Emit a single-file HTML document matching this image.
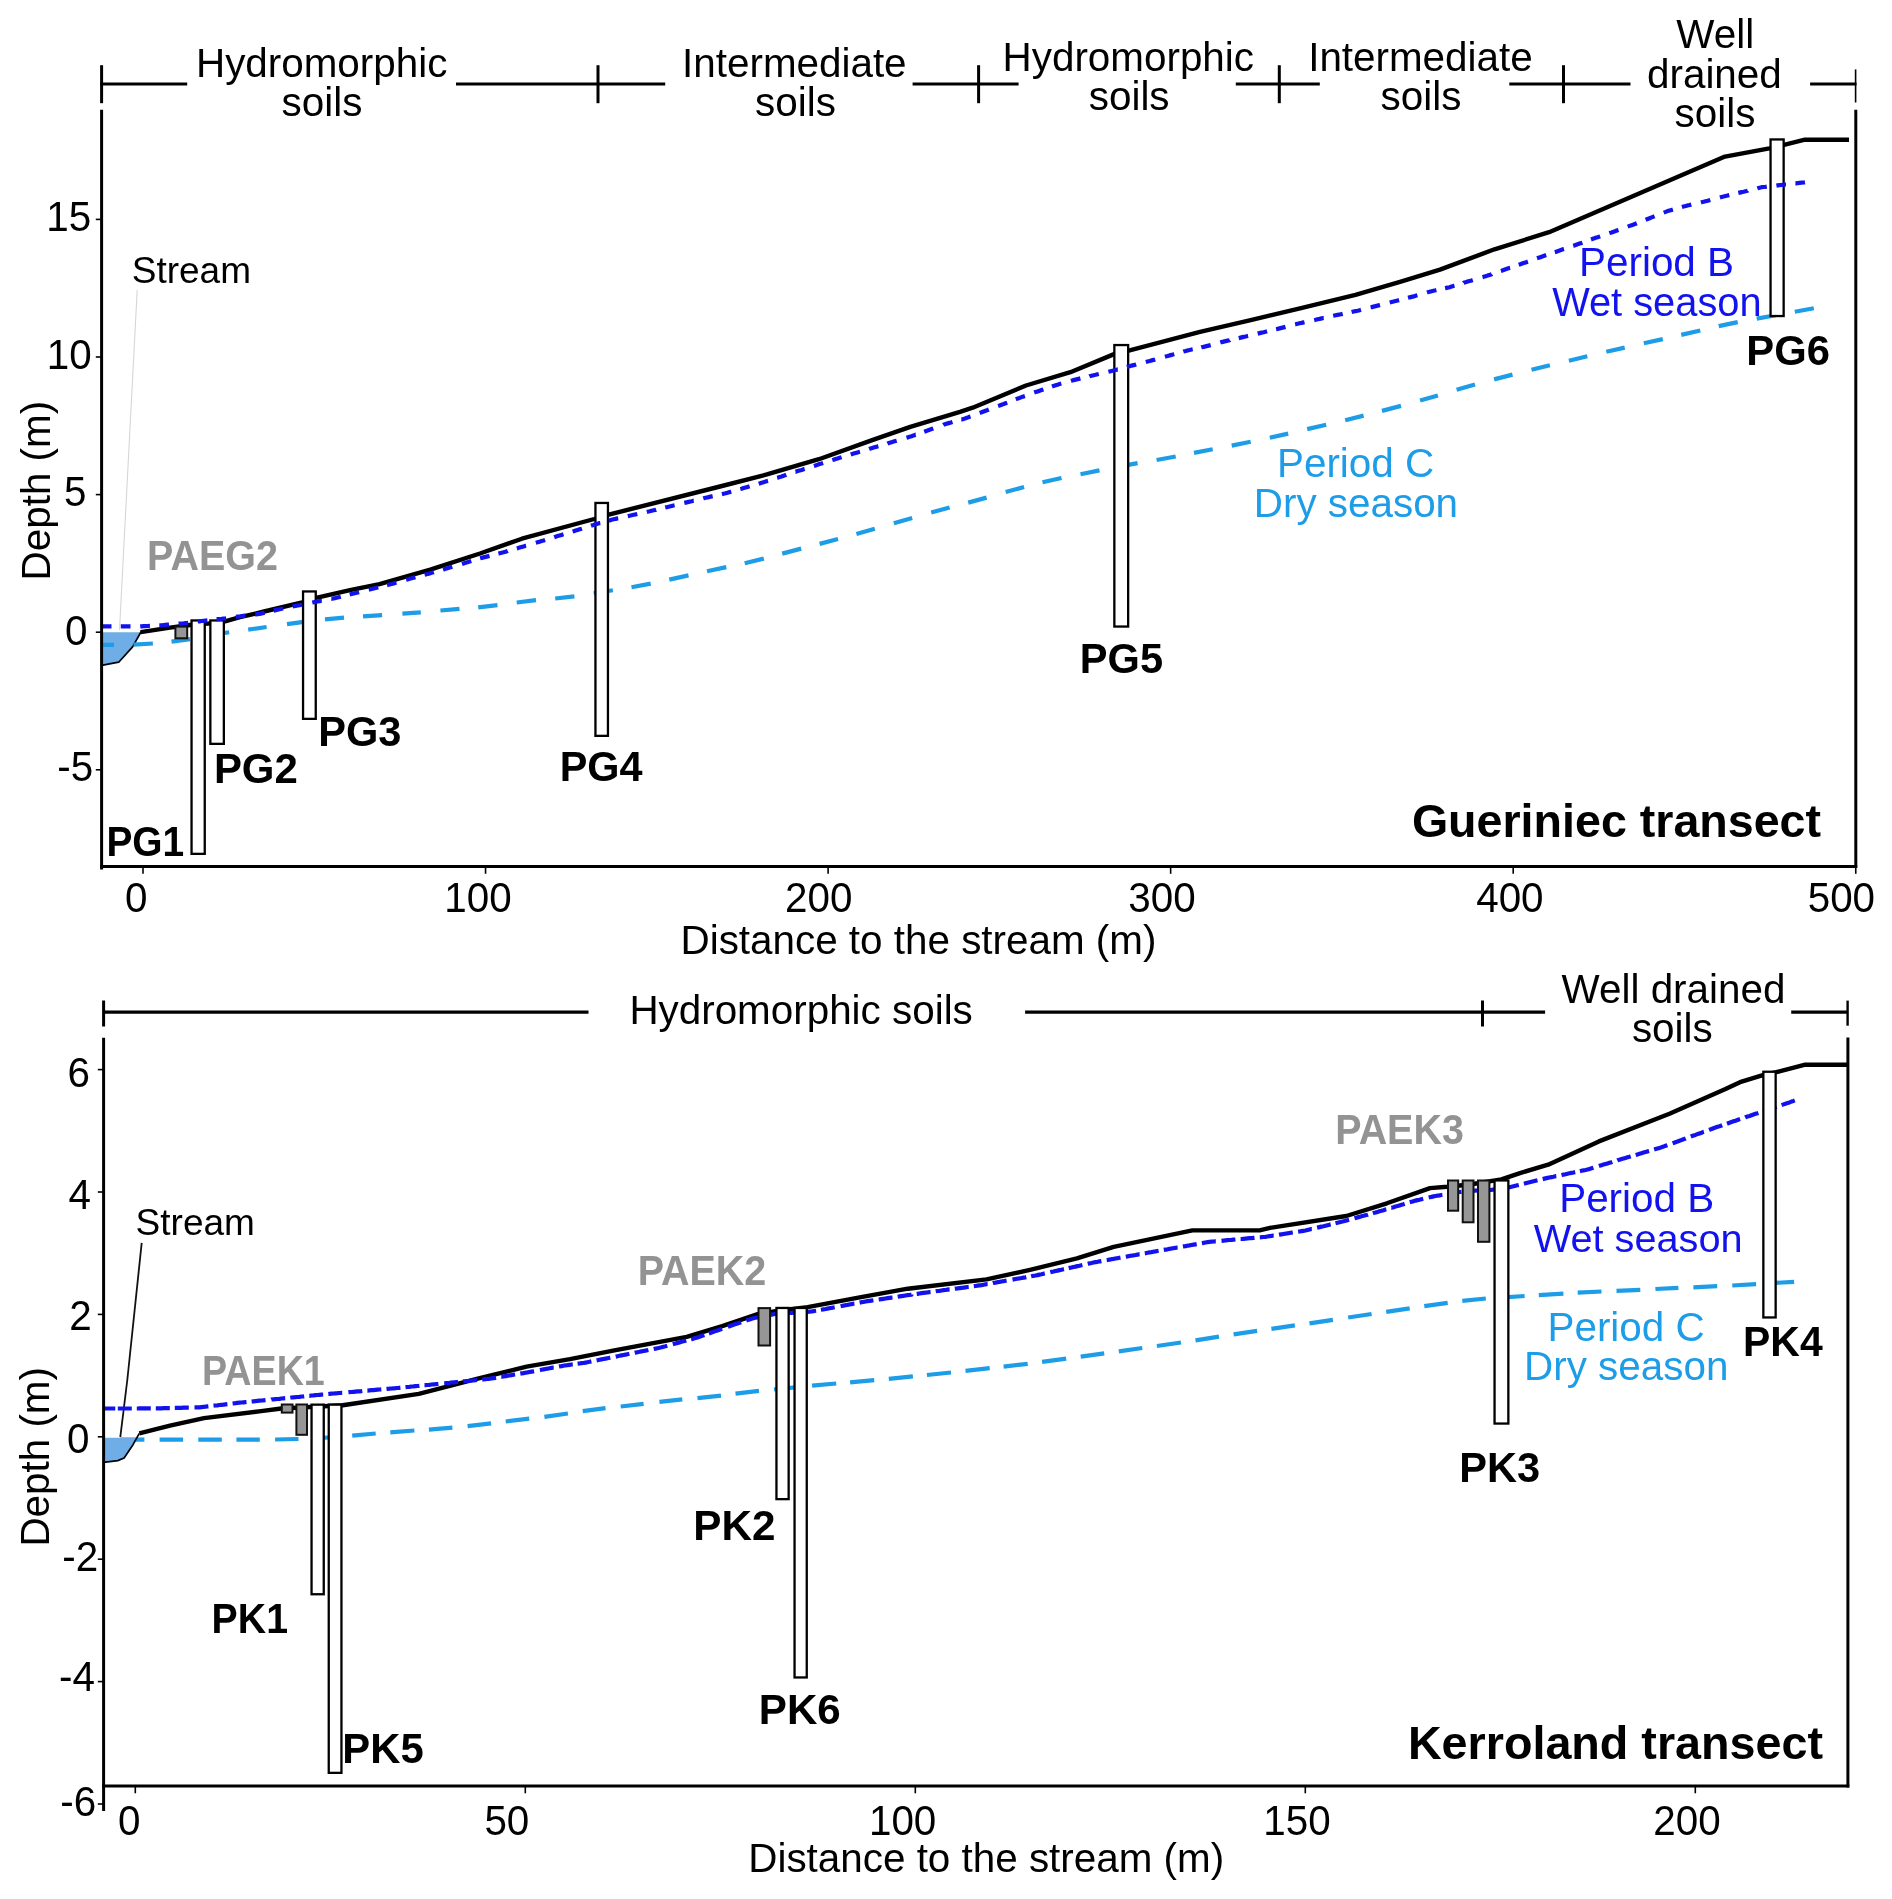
<!DOCTYPE html>
<html><head><meta charset="utf-8"><title>Transects</title><style>
html,body{margin:0;padding:0;background:#fff;}
svg{display:block;will-change:transform;}
text{font-family:"Liberation Sans", sans-serif;}
</style></head><body>
<svg width="1892" height="1899" viewBox="0 0 1892 1899">
<rect width="1892" height="1899" fill="#fff"/>
<line x1="100.20" y1="84.00" x2="187.20" y2="84.00" stroke="#000" stroke-width="3.2"/>
<line x1="456.00" y1="84.00" x2="665.20" y2="84.00" stroke="#000" stroke-width="3.2"/>
<line x1="912.60" y1="84.00" x2="1018.60" y2="84.00" stroke="#000" stroke-width="3.2"/>
<line x1="1235.80" y1="84.00" x2="1319.80" y2="84.00" stroke="#000" stroke-width="3.2"/>
<line x1="1509.30" y1="84.00" x2="1630.50" y2="84.00" stroke="#000" stroke-width="3.2"/>
<line x1="1810.10" y1="84.00" x2="1856.50" y2="84.00" stroke="#000" stroke-width="3.2"/>
<line x1="101.60" y1="65.20" x2="101.60" y2="103.20" stroke="#000" stroke-width="3"/>
<line x1="598.00" y1="65.20" x2="598.00" y2="103.20" stroke="#000" stroke-width="3"/>
<line x1="978.60" y1="65.20" x2="978.60" y2="103.20" stroke="#000" stroke-width="3"/>
<line x1="1279.30" y1="65.20" x2="1279.30" y2="103.20" stroke="#000" stroke-width="3"/>
<line x1="1563.50" y1="65.20" x2="1563.50" y2="103.20" stroke="#000" stroke-width="3"/>
<line x1="1855.60" y1="69.40" x2="1855.60" y2="102.50" stroke="#000" stroke-width="1.6"/>
<text x="195.99" y="76.80" font-size="40.4">Hydromorphic</text>
<text x="281.58" y="116.40" font-size="40.4">soils</text>
<text x="682.07" y="76.90" font-size="40.4">Intermediate</text>
<text x="755.08" y="115.50" font-size="40.4">soils</text>
<text x="1002.59" y="70.90" font-size="40.4">Hydromorphic</text>
<text x="1088.78" y="109.60" font-size="40.4">soils</text>
<text x="1308.17" y="71.40" font-size="40.4">Intermediate</text>
<text x="1380.58" y="110.40" font-size="40.4">soils</text>
<text x="1676.32" y="48.10" font-size="40.4">Well</text>
<text x="1647.00" y="88.00" font-size="40.4">drained</text>
<text x="1674.58" y="126.80" font-size="40.4">soils</text>
<polygon points="101.6,632.2 140.7,632.2 132.6,646.9 118.7,662.2 102.2,665.1" fill="#6eade6"/>
<polyline points="141.5,631.0 132.6,646.9 118.7,662.2 101.6,665.3" fill="none" stroke="#000" stroke-width="1.7" stroke-linejoin="round"/>
<line x1="137.20" y1="290.00" x2="119.50" y2="630.00" stroke="#d6d6d6" stroke-width="1.1"/>
<polyline points="140.7,632.1 170.0,627.6 190.0,625.0 208.0,623.6 225.0,621.3 240.0,617.2 264.1,611.5 302.2,602.4 316.1,597.9 350.0,590.2 379.5,584.1 430.3,569.6 480.0,553.5 521.9,538.7 594.2,519.0 608.8,514.6 720.0,486.5 766.9,474.4 818.9,459.2 872.2,440.1 910.3,426.8 960.0,411.9 972.7,407.7 1026.0,385.5 1070.4,372.2 1113.5,354.4 1128.7,350.6 1200.0,331.8 1250.7,320.2 1300.0,308.4 1355.5,294.9 1400.0,281.9 1440.0,269.6 1494.5,249.3 1549.1,232.2 1725.0,156.6 1769.4,148.3 1784.0,144.9 1804.9,139.7 1849.0,139.7" fill="none" stroke="#000" stroke-width="4.4" stroke-linejoin="round"/>
<path d="M103.0,644.8 L114.0,644.8 M133.5,644.6 L152.9,643.5 M171.5,641.7 L190.0,639.1 M210.0,635.3 L229.2,632.2 M248.2,629.6 L266.6,627.0 M287.0,624.1 L305.5,621.7 M325.0,619.3 L344.0,617.6 M363.0,616.4 L382.1,615.1 M402.4,613.7 L420.8,612.3 M440.4,610.5 L459.5,608.8 M478.2,607.3 L497.5,605.1 M516.7,602.5 L536.0,600.2 M555.2,598.5 L574.4,596.3 M593.7,593.3 L612.9,590.3 M631.5,587.3 L650.7,583.6 M669.3,579.6 L688.5,575.4 M707.0,571.3 L726.3,567.1 M744.7,563.2 L763.8,558.6 M782.2,553.6 L801.2,548.6 M819.6,543.9 L838.0,539.0 M856.4,533.9 L874.8,528.7 M893.8,523.3 L912.2,517.9 M931.2,512.5 L949.6,507.4 M968.2,502.6 L986.6,497.6 M1005.7,492.0 L1024.1,487.0 M1042.5,482.3 L1061.5,478.0 M1080.5,474.2 L1099.5,470.4 M1118.5,466.6 L1137.6,463.1 M1156.6,460.0 L1175.7,456.5 M1194.0,452.9 L1212.7,449.2 M1231.7,445.6 L1250.7,441.8 M1269.8,437.7 L1288.2,433.6 M1307.2,429.1 L1326.2,424.7 M1345.2,420.2 L1363.6,415.6 M1382.0,410.9 L1401.0,405.9 M1420.1,400.6 L1437.9,395.4 M1456.6,389.8 L1475.0,384.5 M1494.1,379.4 L1512.5,374.6 M1531.5,369.7 L1549.9,365.2 M1568.9,360.7 L1587.3,356.3 M1606.3,351.8 L1624.7,347.6 M1643.8,343.3 L1662.8,339.1 M1681.2,334.9 L1700.3,330.5 M1718.7,326.1 L1737.7,322.1 M1756.7,318.6 L1775.7,315.2 M1794.8,311.7 L1813.8,308.3" fill="none" stroke="#1d9de8" stroke-width="4.2" stroke-linejoin="round"/>
<rect x="175.40" y="626.60" width="11.80" height="11.70" fill="#969696" stroke="#111" stroke-width="2.0"/>
<rect x="191.55" y="620.45" width="13.20" height="233.40" fill="#fff" stroke="#000" stroke-width="2.3"/>
<rect x="210.35" y="620.45" width="13.50" height="123.40" fill="#fff" stroke="#000" stroke-width="2.3"/>
<rect x="303.05" y="591.45" width="12.70" height="127.40" fill="#fff" stroke="#000" stroke-width="2.3"/>
<rect x="595.45" y="502.95" width="12.50" height="232.90" fill="#fff" stroke="#000" stroke-width="2.3"/>
<rect x="1114.35" y="345.05" width="13.80" height="281.50" fill="#fff" stroke="#000" stroke-width="2.3"/>
<rect x="1770.55" y="139.45" width="13.10" height="176.60" fill="#fff" stroke="#000" stroke-width="2.3"/>
<path d="M102.8,626.4 L103.6,626.4 L105.6,626.4 L107.6,626.4 L109.6,626.4 L111.5,626.4 M120.8,626.4 L121.6,626.4 L123.6,626.4 L125.6,626.4 L127.6,626.4 L129.6,626.4 L130.5,626.4 M140.2,626.4 L141.6,626.3 L143.6,626.2 L145.6,626.1 L147.6,626.0 L149.6,625.9 L149.9,625.9 M159.3,625.4 L159.6,625.4 L161.6,625.3 L163.6,625.1 L165.6,624.9 L167.6,624.7 L169.0,624.6 M178.6,623.7 L179.6,623.6 L181.6,623.5 L183.6,623.3 L185.6,623.0 L187.6,622.8 L188.2,622.7 M197.8,621.5 L199.6,621.3 L201.6,621.0 L203.6,620.8 L205.6,620.6 L207.4,620.4 M216.6,619.3 L217.6,619.2 L219.6,619.0 L221.6,618.8 L223.6,618.5 L225.6,618.3 L226.2,618.2 M235.9,616.9 L237.6,616.7 L239.6,616.5 L241.6,616.2 L243.6,615.9 L245.5,615.7 M255.2,614.4 L255.6,614.4 L257.6,614.1 L259.6,613.9 L261.6,613.4 L263.6,612.9 L264.7,612.7 M273.6,610.6 L275.6,610.1 L277.6,609.6 L279.6,609.2 L281.6,608.7 L283.1,608.4 M292.6,606.5 L293.6,606.3 L295.6,605.9 L297.6,605.5 L299.6,605.1 L301.6,604.7 L302.1,604.6 M312.3,602.6 L313.6,602.3 L315.6,601.9 L317.6,601.5 L319.6,601.1 L321.6,600.7 L321.8,600.7 M331.3,598.8 L331.6,598.8 L333.6,598.4 L335.6,598.0 L337.6,597.5 L339.6,597.0 L340.8,596.7 M349.7,594.5 L351.6,594.0 L353.6,593.5 L355.6,593.0 L357.6,592.5 L359.1,592.1 M368.8,589.7 L369.6,589.5 L371.6,589.0 L373.6,588.5 L375.6,588.0 L377.6,587.5 L378.2,587.3 M387.1,585.1 L387.6,585.0 L389.6,584.5 L391.6,584.0 L393.6,583.4 L395.6,582.8 L396.5,582.6 M406.1,579.8 L407.6,579.4 L409.6,578.8 L411.6,578.3 L413.6,577.7 L415.4,577.2 M424.6,574.8 L425.6,574.5 L427.6,574.0 L429.6,573.4 L431.6,572.8 L433.6,572.3 L433.9,572.2 M443.0,569.6 L443.6,569.4 L445.6,568.8 L447.6,568.2 L449.6,567.6 L451.6,567.0 L452.3,566.8 M462.0,563.9 L463.6,563.4 L465.6,562.8 L467.6,562.2 L469.6,561.6 L471.3,561.1 M480.1,558.3 L481.6,557.9 L483.6,557.4 L485.6,556.9 L487.6,556.4 L489.5,555.9 M498.4,553.6 L499.6,553.3 L501.6,552.8 L503.6,552.3 L505.6,551.7 L507.6,551.1 L507.8,551.0 M516.8,548.4 L517.6,548.2 L519.6,547.6 L521.6,547.0 L523.6,546.4 L525.6,545.8 L526.1,545.7 M535.8,542.8 L537.6,542.3 L539.6,541.7 L541.6,541.1 L543.6,540.5 L545.1,540.0 M554.2,537.2 L555.6,536.7 L557.6,536.1 L559.6,535.5 L561.6,534.9 L563.5,534.3 M572.6,531.5 L573.6,531.2 L575.6,530.5 L577.6,529.9 L579.6,529.3 L581.6,528.7 L581.9,528.6 M591.0,525.7 L591.6,525.5 L593.6,524.9 L595.6,524.2 L597.6,523.7 L599.6,523.1 L600.3,523.0 M608.8,520.6 L609.6,520.4 L611.6,519.8 L613.6,519.3 L615.6,518.9 L617.6,518.4 L618.2,518.3 M627.8,516.1 L629.6,515.7 L631.6,515.3 L633.6,514.8 L635.6,514.4 L637.3,514.0 M646.8,511.9 L647.6,511.7 L649.6,511.3 L651.6,510.8 L653.6,510.3 L655.6,509.9 L656.2,509.7 M665.2,507.5 L665.6,507.4 L667.6,507.0 L669.6,506.5 L671.6,506.0 L673.6,505.5 L674.6,505.3 M684.3,502.9 L685.6,502.6 L687.6,502.1 L689.6,501.6 L691.6,501.2 L693.6,500.7 L693.7,500.7 M703.3,498.4 L703.6,498.3 L705.6,497.8 L707.6,497.4 L709.6,496.9 L711.6,496.4 L712.7,496.2 M721.9,494.1 L723.6,493.7 L725.6,493.3 L727.6,492.7 L729.6,492.1 L731.3,491.7 M740.3,489.0 L741.6,488.7 L743.6,488.1 L745.6,487.5 L747.6,486.9 L749.6,486.3 L749.6,486.3 M758.7,483.7 L759.6,483.4 L761.6,482.8 L763.6,482.2 L765.6,481.6 L767.6,480.9 L768.0,480.8 M777.1,477.8 L777.6,477.7 L779.6,477.0 L781.6,476.4 L783.6,475.7 L785.6,475.1 L786.3,474.8 M795.5,471.8 L795.6,471.8 L797.6,471.1 L799.6,470.5 L801.6,469.9 L803.6,469.2 L804.7,468.9 M813.9,465.9 L815.6,465.4 L817.6,464.8 L819.6,464.1 L821.6,463.5 L823.1,463.0 M832.3,460.1 L833.6,459.7 L835.6,459.0 L837.6,458.4 L839.6,457.8 L841.6,457.2 M850.7,454.5 L851.6,454.2 L853.6,453.6 L855.6,453.0 L857.6,452.4 L859.6,451.8 L860.0,451.7 M869.1,449.0 L869.6,448.8 L871.6,448.2 L873.6,447.6 L875.6,447.0 L877.6,446.4 L878.4,446.2 M887.4,443.5 L887.6,443.4 L889.6,442.8 L891.6,442.2 L893.6,441.6 L895.6,441.0 L896.7,440.7 M906.5,437.7 L907.6,437.4 L909.6,436.8 L911.6,436.2 L913.6,435.4 L915.6,434.7 L915.7,434.7 M924.2,431.7 L925.6,431.2 L927.6,430.5 L929.6,429.8 L931.6,429.1 L933.3,428.5 M943.3,425.0 L943.6,424.8 L945.6,424.1 L947.6,423.4 L949.6,422.9 L951.6,422.3 L952.5,422.0 M961.3,419.5 L961.6,419.5 L963.6,418.9 L965.6,418.3 L967.6,417.6 L969.6,416.8 L970.5,416.5 M979.7,413.0 L981.6,412.3 L983.6,411.5 L985.6,410.7 L987.6,410.0 L988.8,409.5 M998.1,406.0 L999.6,405.5 L1001.6,404.7 L1003.6,404.0 L1005.6,403.2 L1007.2,402.6 M1015.8,399.3 L1017.6,398.6 L1019.6,397.9 L1021.6,397.1 L1023.6,396.4 L1024.9,396.0 M1034.2,392.6 L1035.6,392.1 L1037.6,391.4 L1039.6,390.7 L1041.6,390.0 L1043.4,389.4 M1052.0,386.5 L1053.6,385.9 L1055.6,385.3 L1057.6,384.7 L1059.6,384.1 L1061.3,383.6 M1071.0,380.9 L1071.6,380.7 L1073.6,380.1 L1075.6,379.6 L1077.6,379.1 L1079.6,378.6 L1080.4,378.4 M1089.4,376.3 L1089.6,376.2 L1091.6,375.7 L1093.6,375.2 L1095.6,374.8 L1097.6,374.3 L1098.8,374.0 M1108.4,371.8 L1109.6,371.5 L1111.6,371.0 L1113.6,370.5 L1115.6,370.0 L1117.6,369.4 L1117.8,369.4 M1126.8,366.9 L1127.6,366.7 L1129.6,366.2 L1131.6,365.6 L1133.6,365.1 L1135.6,364.6 L1136.2,364.4 M1145.8,362.0 L1147.6,361.5 L1149.6,361.0 L1151.6,360.4 L1153.6,359.9 L1155.2,359.4 M1164.9,356.7 L1165.6,356.5 L1167.6,356.0 L1169.6,355.4 L1171.6,354.9 L1173.6,354.3 L1174.2,354.1 M1183.3,351.6 L1183.6,351.5 L1185.6,351.0 L1187.6,350.4 L1189.6,350.0 L1191.6,349.5 L1192.7,349.3 M1201.3,347.4 L1201.6,347.3 L1203.6,346.9 L1205.6,346.4 L1207.6,345.9 L1209.6,345.4 L1210.7,345.1 M1220.3,342.5 L1221.6,342.1 L1223.6,341.6 L1225.6,341.1 L1227.6,340.6 L1229.6,340.2 L1229.7,340.1 M1238.7,338.1 L1239.6,337.9 L1241.6,337.4 L1243.6,336.9 L1245.6,336.5 L1247.6,336.0 L1248.1,335.9 M1257.7,333.6 L1259.6,333.1 L1261.6,332.6 L1263.6,332.2 L1265.6,331.7 L1267.1,331.3 M1276.1,329.2 L1277.6,328.9 L1279.6,328.4 L1281.6,327.9 L1283.6,327.4 L1285.5,326.9 M1295.1,324.4 L1295.6,324.3 L1297.6,323.8 L1299.6,323.3 L1301.6,322.9 L1303.6,322.4 L1304.5,322.2 M1314.2,320.1 L1315.6,319.8 L1317.6,319.3 L1319.6,318.9 L1321.6,318.4 L1323.6,318.0 L1323.7,318.0 M1333.2,315.9 L1333.6,315.8 L1335.6,315.3 L1337.6,314.9 L1339.6,314.5 L1341.6,314.1 L1342.7,313.8 M1351.6,312.0 L1353.6,311.5 L1355.6,311.1 L1357.6,310.7 L1359.6,310.2 L1361.0,309.8 M1370.6,307.3 L1371.6,307.1 L1373.6,306.6 L1375.6,306.1 L1377.6,305.6 L1379.6,305.1 L1380.0,305.0 M1389.7,302.5 L1391.6,302.0 L1393.6,301.5 L1395.6,301.0 L1397.6,300.5 L1399.1,300.1 M1408.0,297.8 L1409.6,297.4 L1411.6,296.9 L1413.6,296.4 L1415.6,295.8 L1417.4,295.3 M1427.0,292.5 L1427.6,292.3 L1429.6,291.8 L1431.6,291.2 L1433.6,290.7 L1435.6,290.3 L1436.4,290.1 M1445.1,288.2 L1445.6,288.1 L1447.6,287.6 L1449.6,287.2 L1451.6,286.5 L1453.6,285.9 L1454.5,285.7 M1463.5,282.9 L1463.6,282.8 L1465.6,282.2 L1467.6,281.6 L1469.6,281.0 L1471.6,280.4 L1472.8,280.0 M1482.5,277.1 L1483.6,276.8 L1485.6,276.2 L1487.6,275.6 L1489.6,274.9 L1491.6,274.2 L1491.7,274.1 M1500.9,270.9 L1501.6,270.7 L1503.6,270.0 L1505.6,269.3 L1507.6,268.6 L1509.6,267.9 L1510.1,267.8 M1518.7,264.8 L1519.6,264.5 L1521.6,263.8 L1523.6,263.1 L1525.6,262.4 L1527.6,261.7 L1527.9,261.6 M1537.0,258.3 L1537.6,258.1 L1539.6,257.4 L1541.6,256.7 L1543.6,256.0 L1545.6,255.3 L1546.2,255.1 M1554.8,252.1 L1555.6,251.9 L1557.6,251.2 L1559.6,250.5 L1561.6,249.8 L1563.6,249.1 L1564.0,249.0 M1573.2,245.8 L1573.6,245.7 L1575.6,245.0 L1577.6,244.3 L1579.6,243.6 L1581.6,242.9 L1582.4,242.6 M1591.0,239.5 L1591.6,239.3 L1593.6,238.6 L1595.6,237.8 L1597.6,237.2 L1599.6,236.5 L1600.1,236.3 M1609.3,233.1 L1609.6,233.0 L1611.6,232.4 L1613.6,231.7 L1615.6,231.0 L1617.6,230.2 L1618.5,229.9 M1627.7,226.6 L1629.6,225.9 L1631.6,225.2 L1633.6,224.5 L1635.6,223.7 L1636.8,223.2 M1645.6,219.8 L1647.6,219.0 L1649.6,218.2 L1651.6,217.4 L1653.6,216.6 L1654.6,216.2 M1663.7,212.6 L1665.6,211.9 L1667.6,211.1 L1669.6,210.5 L1671.6,209.9 L1672.9,209.5 M1681.9,207.0 L1683.6,206.5 L1685.6,206.0 L1687.6,205.4 L1689.6,205.0 L1691.3,204.6 M1700.9,202.4 L1701.6,202.2 L1703.6,201.8 L1705.6,201.3 L1707.6,200.8 L1709.6,200.2 L1710.3,200.0 M1719.9,197.5 L1721.6,197.0 L1723.6,196.5 L1725.6,196.0 L1727.6,195.5 L1729.3,195.1 M1738.3,192.9 L1739.6,192.6 L1741.6,192.1 L1743.6,191.7 L1745.6,191.2 L1747.6,190.7 L1747.7,190.6 M1757.3,188.3 L1757.6,188.2 L1759.6,187.7 L1761.6,187.2 L1763.6,187.0 L1765.6,186.8 L1766.8,186.6 M1776.4,185.6 L1777.6,185.4 L1779.6,185.2 L1781.6,185.0 L1783.6,184.7 L1785.6,184.5 L1786.0,184.5 M1795.4,183.4 L1795.6,183.4 L1797.6,183.1 L1799.6,182.9 L1801.6,182.7 L1803.6,182.5 L1805.0,182.3" fill="none" stroke="#1212ee" stroke-width="4.2" stroke-linejoin="round"/>
<line x1="101.60" y1="109.80" x2="101.60" y2="869.50" stroke="#000" stroke-width="3"/>
<line x1="100.10" y1="866.40" x2="1857.20" y2="866.40" stroke="#000" stroke-width="3"/>
<line x1="1855.80" y1="109.80" x2="1855.80" y2="867.90" stroke="#000" stroke-width="3"/>
<line x1="95.80" y1="219.40" x2="101.00" y2="219.40" stroke="#000" stroke-width="1.6"/>
<line x1="95.80" y1="357.00" x2="101.00" y2="357.00" stroke="#000" stroke-width="1.6"/>
<line x1="95.80" y1="494.60" x2="101.00" y2="494.60" stroke="#000" stroke-width="1.6"/>
<line x1="95.80" y1="632.20" x2="101.00" y2="632.20" stroke="#000" stroke-width="1.6"/>
<line x1="95.80" y1="769.80" x2="101.00" y2="769.80" stroke="#000" stroke-width="1.6"/>
<line x1="143.00" y1="866.00" x2="143.00" y2="873.80" stroke="#000" stroke-width="1.6"/>
<line x1="485.55" y1="866.00" x2="485.55" y2="873.80" stroke="#000" stroke-width="1.6"/>
<line x1="828.10" y1="866.00" x2="828.10" y2="873.80" stroke="#000" stroke-width="1.6"/>
<line x1="1170.65" y1="866.00" x2="1170.65" y2="873.80" stroke="#000" stroke-width="1.6"/>
<line x1="1513.20" y1="866.00" x2="1513.20" y2="873.80" stroke="#000" stroke-width="1.6"/>
<line x1="1855.75" y1="866.00" x2="1855.75" y2="873.80" stroke="#000" stroke-width="1.6"/>
<text transform="translate(46.22,231.20) scale(1.0000,1.0350)" font-size="40.4">15</text>
<text transform="translate(46.82,368.60) scale(1.0000,1.0350)" font-size="40.4">10</text>
<text transform="translate(64.08,505.50) scale(1.0000,1.0350)" font-size="40.4">5</text>
<text transform="translate(65.02,645.40) scale(1.0000,1.0350)" font-size="40.4">0</text>
<text transform="translate(57.30,781.10) scale(1.0000,1.0350)" font-size="40.4">-5</text>
<text transform="translate(124.92,911.50) scale(1.0000,1.0350)" font-size="40.4">0</text>
<text transform="translate(444.32,911.50) scale(1.0000,1.0350)" font-size="40.4">100</text>
<text transform="translate(785.07,911.50) scale(1.0000,1.0350)" font-size="40.4">200</text>
<text transform="translate(1128.26,911.50) scale(1.0000,1.0350)" font-size="40.4">300</text>
<text transform="translate(1476.17,911.50) scale(1.0000,1.0350)" font-size="40.4">400</text>
<text transform="translate(1807.68,911.50) scale(1.0000,1.0350)" font-size="40.4">500</text>
<text x="680.49" y="953.90" font-size="40.4">Distance to the stream (m)</text>
<text transform="translate(50.40,580.41) rotate(-90)" font-size="40.4">Depth (m)</text>
<text x="1411.89" y="837.40" font-size="46.6" font-weight="bold">Gueriniec transect</text>
<text x="131.72" y="283.00" font-size="37">Stream</text>
<text transform="translate(147.06,569.90) scale(0.9747,1.0350)" font-size="40.5" font-weight="bold" fill="#939393">PAEG2</text>
<text transform="translate(106.40,856.00) scale(0.9357,1.0350)" font-size="41.6" font-weight="bold">PG1</text>
<text transform="translate(213.89,783.20) scale(1.0090,1.0350)" font-size="41.6" font-weight="bold">PG2</text>
<text transform="translate(318.22,745.50) scale(1.0000,1.0350)" font-size="41.6" font-weight="bold">PG3</text>
<text transform="translate(559.73,781.40) scale(0.9958,1.0350)" font-size="41.6" font-weight="bold">PG4</text>
<text transform="translate(1079.82,672.50) scale(1.0000,1.0350)" font-size="41.6" font-weight="bold">PG5</text>
<text transform="translate(1746.31,365.10) scale(1.0044,1.0350)" font-size="41.6" font-weight="bold">PG6</text>
<text x="1579.09" y="276.30" font-size="40.4" fill="#1212ee">Period B</text>
<text x="1552.13" y="316.00" font-size="39.8" fill="#1212ee">Wet season</text>
<text x="1276.99" y="477.20" font-size="40.4" fill="#1d9de8">Period C</text>
<text x="1253.79" y="517.30" font-size="40.4" fill="#1d9de8">Dry season</text>
<line x1="103.20" y1="1012.20" x2="588.50" y2="1012.20" stroke="#000" stroke-width="3.2"/>
<line x1="1025.10" y1="1012.20" x2="1545.10" y2="1012.20" stroke="#000" stroke-width="3.2"/>
<line x1="1791.20" y1="1012.20" x2="1847.60" y2="1012.20" stroke="#000" stroke-width="3.2"/>
<line x1="103.60" y1="1000.50" x2="103.60" y2="1026.50" stroke="#000" stroke-width="3"/>
<line x1="1482.50" y1="1000.50" x2="1482.50" y2="1026.50" stroke="#000" stroke-width="3"/>
<line x1="1847.60" y1="1000.60" x2="1847.60" y2="1025.70" stroke="#000" stroke-width="2.4"/>
<text x="629.39" y="1023.60" font-size="40.4">Hydromorphic soils</text>
<text x="1561.62" y="1003.00" font-size="40.4">Well drained</text>
<text x="1631.88" y="1042.40" font-size="40.4">soils</text>
<polyline points="139.3,1433.3 170.0,1425.7 204.0,1418.1 261.1,1411.1 281.4,1408.5 310.0,1407.0 342.7,1405.3 418.8,1393.9 479.7,1378.1 526.6,1366.6 570.0,1359.1 614.4,1350.3 686.7,1336.9 722.2,1326.2 757.7,1314.1 780.0,1310.5 807.6,1307.1 858.4,1297.6 907.8,1288.7 986.5,1279.4 1030.0,1269.8 1076.9,1258.4 1113.7,1246.9 1192.4,1230.4 1259.6,1230.4 1270.0,1227.9 1346.3,1216.0 1386.9,1203.3 1430.0,1188.1 1447.1,1186.8 1470.0,1184.5 1501.4,1179.3 1520.0,1173.1 1548.2,1164.7 1598.9,1141.4 1669.5,1113.8 1725.5,1089.1 1740.0,1082.2 1762.0,1075.4 1776.3,1072.2 1804.3,1064.8 1847.1,1064.8" fill="none" stroke="#000" stroke-width="4.4" stroke-linejoin="round"/>
<path d="M120.9,1439.6 L144.4,1439.6 M159.6,1439.6 L183.1,1439.6 M198.3,1439.6 L221.8,1439.6 M236.4,1439.6 L259.8,1439.6 M275.1,1439.5 L298.5,1439.0 M313.8,1438.5 L337.3,1436.9 M352.2,1435.6 L375.7,1433.5 M390.3,1432.3 L414.4,1430.5 M428.9,1429.6 L452.4,1427.6 M467.6,1426.2 L491.1,1423.4 M505.7,1421.5 L529.2,1418.6 M544.4,1416.8 L567.9,1413.5 M582.7,1411.1 L605.5,1408.1 M620.7,1406.5 L643.6,1403.9 M659.4,1401.9 L682.3,1399.4 M697.5,1398.2 L721.0,1395.6 M735.5,1393.7 L759.0,1390.9 M774.0,1389.5 L797.5,1387.1 M812.1,1385.7 L836.2,1383.5 M850.1,1382.4 L874.2,1380.2 M888.8,1378.8 L912.9,1376.4 M926.9,1375.0 L951.0,1372.5 M965.5,1370.9 L989.7,1368.2 M1003.6,1366.7 L1027.7,1363.8 M1042.1,1361.9 L1066.2,1358.7 M1080.7,1356.7 L1104.2,1353.3 M1118.8,1351.3 L1142.3,1348.0 M1156.9,1346.0 L1181.0,1342.5 M1195.5,1340.3 L1219.0,1336.7 M1233.6,1334.4 L1257.1,1330.9 M1271.4,1328.8 L1294.9,1325.4 M1309.5,1323.3 L1332.9,1319.8 M1348.2,1317.5 L1371.6,1314.0 M1386.2,1311.9 L1409.7,1308.3 M1424.3,1306.2 L1447.7,1302.8 M1462.3,1300.9 L1485.8,1298.5 M1500.5,1297.6 L1524.6,1296.0 M1538.8,1295.2 L1563.4,1293.6 M1577.7,1292.7 L1601.5,1291.5 M1616.5,1290.9 L1640.3,1289.8 M1655.4,1289.0 L1678.4,1287.9 M1693.4,1287.3 L1717.2,1286.2 M1732.3,1285.5 L1756.1,1284.2 M1770.5,1283.2 L1794.1,1281.8" fill="none" stroke="#1d9de8" stroke-width="4.2" stroke-linejoin="round"/>
<polygon points="103.6,1437.7 137.4,1437.7 133,1444.7 124.1,1458 117.8,1460.6 103.8,1462.2" fill="#6eade6"/>
<polyline points="139.3,1433.3 133.0,1444.7 124.1,1458.0 117.8,1460.6 103.6,1462.3" fill="none" stroke="#000" stroke-width="1.7" stroke-linejoin="round"/>
<line x1="127.30" y1="1380.00" x2="120.30" y2="1437.10" stroke="#111" stroke-width="1.8"/>
<line x1="141.70" y1="1242.90" x2="127.30" y2="1380.00" stroke="#111" stroke-width="1.8"/>
<path d="M105.0,1408.5 L105.5,1408.5 L107.5,1408.5 L109.5,1408.5 L111.5,1408.5 L113.5,1408.5 L115.3,1408.5 M117.8,1408.5 L119.5,1408.5 L121.5,1408.5 L123.5,1408.5 L125.5,1408.5 L127.5,1408.5 L129.5,1408.5 L131.5,1408.5 L131.8,1408.5 M136.8,1408.5 L137.5,1408.5 L139.5,1408.4 L141.5,1408.4 L143.5,1408.4 L145.5,1408.4 L147.5,1408.4 L149.5,1408.4 L150.8,1408.4 M155.8,1408.3 L157.5,1408.3 L159.5,1408.3 L161.5,1408.3 L163.5,1408.2 L165.5,1408.2 L167.5,1408.1 L169.5,1408.1 L169.8,1408.1 M174.8,1407.9 L175.5,1407.9 L177.5,1407.9 L179.5,1407.8 L181.5,1407.8 L183.5,1407.7 L185.5,1407.7 L187.5,1407.6 L188.8,1407.6 M194.5,1407.4 L195.5,1407.4 L197.5,1407.4 L199.5,1407.3 L201.5,1407.1 L203.5,1406.9 L205.5,1406.7 L207.5,1406.4 L208.4,1406.3 M213.5,1405.7 L215.5,1405.5 L217.5,1405.3 L219.5,1405.0 L221.5,1404.8 L223.5,1404.6 L225.5,1404.3 L227.4,1404.1 M232.6,1403.5 L233.5,1403.4 L235.5,1403.2 L237.5,1402.9 L239.5,1402.7 L241.5,1402.5 L243.5,1402.3 L245.5,1402.1 L246.5,1402.0 M251.6,1401.5 L253.5,1401.3 L255.5,1401.1 L257.5,1400.9 L259.5,1400.7 L261.5,1400.5 L263.5,1400.3 L265.5,1400.1 L265.5,1400.1 M271.3,1399.6 L271.5,1399.5 L273.5,1399.3 L275.5,1399.1 L277.5,1399.0 L279.5,1398.8 L281.5,1398.5 L283.5,1398.3 L285.2,1398.2 M290.3,1397.7 L291.5,1397.5 L293.5,1397.3 L295.5,1397.2 L297.5,1397.0 L299.5,1396.8 L301.5,1396.5 L303.5,1396.4 L304.2,1396.3 M309.3,1395.8 L309.5,1395.8 L311.5,1395.5 L313.5,1395.4 L315.5,1395.2 L317.5,1395.0 L319.5,1394.8 L321.5,1394.6 L323.2,1394.5 M328.3,1394.0 L329.5,1393.9 L331.5,1393.7 L333.5,1393.5 L335.5,1393.3 L337.5,1393.2 L339.5,1393.0 L341.5,1392.8 L342.2,1392.8 M348.4,1392.2 L349.5,1392.1 L351.5,1392.0 L353.5,1391.8 L355.5,1391.6 L357.5,1391.4 L359.5,1391.3 L361.5,1391.1 L362.3,1391.0 M367.4,1390.6 L367.5,1390.6 L369.5,1390.4 L371.5,1390.2 L373.5,1390.1 L375.5,1389.9 L377.5,1389.7 L379.5,1389.5 L381.3,1389.4 M386.5,1388.9 L387.5,1388.8 L389.5,1388.7 L391.5,1388.5 L393.5,1388.3 L395.5,1388.2 L397.5,1388.0 L399.5,1387.8 L400.4,1387.7 M405.5,1387.2 L407.5,1387.0 L409.5,1386.8 L411.5,1386.5 L413.5,1386.4 L415.5,1386.2 L417.5,1386.0 L419.4,1385.8 M424.5,1385.2 L425.5,1385.2 L427.5,1385.0 L429.5,1384.8 L431.5,1384.5 L433.5,1384.3 L435.5,1384.2 L437.5,1384.0 L438.4,1383.9 M444.2,1383.3 L445.5,1383.2 L447.5,1383.0 L449.5,1382.8 L451.5,1382.5 L453.5,1382.3 L455.5,1382.2 L457.5,1382.0 L458.1,1381.9 M463.2,1381.4 L463.5,1381.3 L465.5,1381.2 L467.5,1381.0 L469.5,1380.8 L471.5,1380.5 L473.5,1380.4 L475.5,1380.2 L477.1,1380.0 M482.2,1379.5 L483.5,1379.4 L485.5,1379.2 L487.5,1379.0 L489.5,1378.8 L491.5,1378.4 L493.5,1378.1 L495.5,1377.8 L496.1,1377.7 M501.3,1376.8 L501.5,1376.8 L503.5,1376.4 L505.5,1376.1 L507.5,1375.8 L509.5,1375.4 L511.5,1375.1 L513.5,1374.7 L515.1,1374.5 M520.3,1373.6 L521.5,1373.4 L523.5,1373.1 L525.5,1372.7 L527.5,1372.4 L529.5,1372.0 L531.5,1371.6 L533.5,1371.3 L534.1,1371.2 M539.9,1370.1 L541.5,1369.8 L543.5,1369.4 L545.5,1369.0 L547.5,1368.7 L549.5,1368.3 L551.5,1367.9 L553.5,1367.5 L553.7,1367.5 M559.0,1366.5 L559.5,1366.4 L561.5,1366.1 L563.5,1365.7 L565.5,1365.3 L567.5,1365.1 L569.5,1364.8 L571.5,1364.5 L572.8,1364.4 M577.6,1363.7 L579.5,1363.5 L581.5,1363.2 L583.5,1363.0 L585.5,1362.6 L587.5,1362.2 L589.5,1361.8 L591.4,1361.4 M596.6,1360.4 L597.5,1360.2 L599.5,1359.8 L601.5,1359.4 L603.5,1359.0 L605.5,1358.6 L607.5,1358.2 L609.5,1357.8 L610.3,1357.6 M615.7,1356.6 L617.5,1356.2 L619.5,1355.8 L621.5,1355.4 L623.5,1355.0 L625.5,1354.6 L627.5,1354.2 L629.4,1353.8 M634.7,1352.8 L635.5,1352.6 L637.5,1352.2 L639.5,1351.8 L641.5,1351.4 L643.5,1351.0 L645.5,1350.6 L647.5,1350.2 L648.4,1350.0 M653.7,1349.0 L655.5,1348.6 L657.5,1348.2 L659.5,1347.8 L661.5,1347.3 L663.5,1346.7 L665.5,1346.2 L667.3,1345.7 M672.8,1344.2 L673.5,1344.0 L675.5,1343.5 L677.5,1342.9 L679.5,1342.4 L681.5,1341.8 L683.5,1341.3 L685.5,1340.7 L686.3,1340.5 M691.1,1339.2 L691.5,1339.1 L693.5,1338.6 L695.5,1338.0 L697.5,1337.4 L699.5,1336.7 L701.5,1336.0 L703.5,1335.3 L704.4,1335.0 M708.9,1333.4 L709.5,1333.2 L711.5,1332.5 L713.5,1331.8 L715.5,1331.1 L717.5,1330.4 L719.5,1329.7 L721.5,1329.0 L722.1,1328.8 M727.9,1326.8 L729.5,1326.2 L731.5,1325.5 L733.5,1324.8 L735.5,1324.1 L737.5,1323.4 L739.5,1322.8 L741.1,1322.2 M746.3,1320.4 L747.5,1320.0 L749.5,1319.4 L751.5,1318.7 L753.5,1318.2 L755.5,1317.8 L757.5,1317.4 L759.5,1317.0 L759.8,1316.9 M764.6,1316.0 L765.5,1315.8 L767.5,1315.4 L769.5,1315.0 L771.5,1314.6 L773.5,1314.2 L775.5,1314.0 L777.5,1313.8 L778.4,1313.8 M783.3,1313.4 L783.5,1313.4 L785.5,1313.3 L787.5,1313.1 L789.5,1313.0 L791.5,1312.8 L793.5,1312.7 L795.5,1312.6 L797.3,1312.5 M802.2,1312.1 L803.5,1312.1 L805.5,1311.9 L807.5,1311.8 L809.5,1311.7 L811.5,1311.5 L813.5,1311.2 L815.5,1310.8 L816.1,1310.7 M820.9,1309.8 L821.5,1309.7 L823.5,1309.3 L825.5,1309.0 L827.5,1308.6 L829.5,1308.2 L831.5,1307.9 L833.5,1307.5 L834.7,1307.3 M840.6,1306.2 L841.5,1306.0 L843.5,1305.6 L845.5,1305.2 L847.5,1304.9 L849.5,1304.5 L851.5,1304.1 L853.5,1303.7 L854.4,1303.6 M859.6,1302.6 L861.5,1302.2 L863.5,1301.9 L865.5,1301.5 L867.5,1301.2 L869.5,1300.9 L871.5,1300.6 L873.4,1300.3 M878.7,1299.5 L879.5,1299.4 L881.5,1299.1 L883.5,1298.8 L885.5,1298.5 L887.5,1298.2 L889.5,1297.9 L891.5,1297.6 L892.5,1297.5 M897.7,1296.7 L899.5,1296.4 L901.5,1296.1 L903.5,1295.8 L905.5,1295.5 L907.5,1295.2 L909.5,1295.0 L911.5,1294.7 L911.5,1294.6 M916.7,1293.9 L917.5,1293.8 L919.5,1293.5 L921.5,1293.2 L923.5,1292.9 L925.5,1292.6 L927.5,1292.4 L929.5,1292.1 L930.6,1292.0 M935.7,1291.3 L937.5,1291.0 L939.5,1290.8 L941.5,1290.5 L943.5,1290.2 L945.5,1290.0 L947.5,1289.7 L949.5,1289.4 L949.6,1289.4 M954.8,1288.7 L955.5,1288.6 L957.5,1288.4 L959.5,1288.1 L961.5,1287.8 L963.5,1287.6 L965.5,1287.3 L967.5,1287.0 L968.7,1286.9 M973.8,1286.2 L975.5,1286.0 L977.5,1285.7 L979.5,1285.4 L981.5,1285.1 L983.5,1284.7 L985.5,1284.3 L987.5,1284.0 L987.6,1284.0 M992.8,1283.1 L993.5,1282.9 L995.5,1282.6 L997.5,1282.2 L999.5,1281.9 L1001.5,1281.5 L1003.5,1281.2 L1005.5,1280.8 L1006.6,1280.6 M1012.5,1279.6 L1013.5,1279.4 L1015.5,1279.0 L1017.5,1278.7 L1019.5,1278.3 L1021.5,1278.0 L1023.5,1277.6 L1025.5,1277.3 L1026.3,1277.1 M1031.1,1276.3 L1031.5,1276.2 L1033.5,1275.8 L1035.5,1275.5 L1037.5,1275.1 L1039.5,1274.6 L1041.5,1274.2 L1043.5,1273.7 L1044.8,1273.4 M1050.3,1272.2 L1051.5,1271.9 L1053.5,1271.5 L1055.5,1271.0 L1057.5,1270.6 L1059.5,1270.1 L1061.5,1269.7 L1063.5,1269.2 L1064.0,1269.1 M1068.7,1268.1 L1069.5,1267.9 L1071.5,1267.5 L1073.5,1267.0 L1075.5,1266.6 L1077.5,1266.1 L1079.5,1265.7 L1081.5,1265.2 L1082.4,1265.0 M1087.7,1263.8 L1089.5,1263.4 L1091.5,1263.0 L1093.5,1262.5 L1095.5,1262.1 L1097.5,1261.8 L1099.5,1261.4 L1101.4,1261.1 M1106.7,1260.1 L1107.5,1260.0 L1109.5,1259.6 L1111.5,1259.2 L1113.5,1258.9 L1115.5,1258.5 L1117.5,1258.2 L1119.5,1257.8 L1120.5,1257.6 M1125.8,1256.7 L1127.5,1256.4 L1129.5,1256.0 L1131.5,1255.7 L1133.5,1255.3 L1135.5,1255.0 L1137.5,1254.6 L1139.5,1254.2 L1139.6,1254.2 M1144.8,1253.3 L1145.5,1253.2 L1147.5,1252.8 L1149.5,1252.4 L1151.5,1252.1 L1153.5,1251.7 L1155.5,1251.4 L1157.5,1251.0 L1158.6,1250.8 M1163.8,1249.9 L1165.5,1249.6 L1167.5,1249.3 L1169.5,1248.9 L1171.5,1248.5 L1173.5,1248.2 L1175.5,1247.8 L1177.5,1247.5 L1177.6,1247.5 M1182.9,1246.5 L1183.5,1246.4 L1185.5,1246.1 L1187.5,1245.7 L1189.5,1245.4 L1191.5,1245.0 L1193.5,1244.6 L1195.5,1244.3 L1196.7,1244.1 M1201.9,1243.2 L1203.5,1242.9 L1205.5,1242.5 L1207.5,1242.2 L1209.5,1241.9 L1211.5,1241.7 L1213.5,1241.5 L1215.5,1241.3 L1215.8,1241.3 M1221.5,1240.8 L1223.5,1240.6 L1225.5,1240.4 L1227.5,1240.2 L1229.5,1240.0 L1231.5,1239.9 L1233.5,1239.7 L1235.4,1239.5 M1240.6,1239.0 L1241.5,1239.0 L1243.5,1238.8 L1245.5,1238.6 L1247.5,1238.4 L1249.5,1238.2 L1251.5,1238.1 L1253.5,1237.9 L1254.5,1237.8 M1259.8,1237.3 L1261.5,1237.2 L1263.5,1237.0 L1265.5,1236.8 L1267.5,1236.5 L1269.5,1236.2 L1271.5,1235.9 L1273.5,1235.5 L1273.7,1235.5 M1279.0,1234.7 L1279.5,1234.6 L1281.5,1234.3 L1283.5,1234.0 L1285.5,1233.7 L1287.5,1233.3 L1289.5,1233.0 L1291.5,1232.7 L1292.8,1232.5 M1298.1,1231.7 L1299.5,1231.5 L1301.5,1231.1 L1303.5,1230.8 L1305.5,1230.5 L1307.5,1230.0 L1309.5,1229.5 L1311.5,1229.0 L1311.8,1229.0 M1317.1,1227.7 L1317.5,1227.6 L1319.5,1227.1 L1321.5,1226.6 L1323.5,1226.2 L1325.5,1225.7 L1327.5,1225.2 L1329.5,1224.7 L1330.7,1224.4 M1335.5,1223.3 L1337.5,1222.8 L1339.5,1222.3 L1341.5,1221.8 L1343.5,1221.3 L1345.5,1220.7 L1347.5,1220.2 L1349.1,1219.8 M1354.5,1218.3 L1355.5,1218.0 L1357.5,1217.4 L1359.5,1216.9 L1361.5,1216.3 L1363.5,1215.8 L1365.5,1215.2 L1367.5,1214.7 L1368.0,1214.5 M1372.9,1213.2 L1373.5,1213.0 L1375.5,1212.5 L1377.5,1211.9 L1379.5,1211.3 L1381.5,1210.8 L1383.5,1210.2 L1385.5,1209.5 L1386.3,1209.3 M1391.3,1207.8 L1391.5,1207.8 L1393.5,1207.2 L1395.5,1206.5 L1397.5,1206.0 L1399.5,1205.4 L1401.5,1204.8 L1403.5,1204.2 L1404.7,1203.8 M1409.7,1202.3 L1411.5,1201.8 L1413.5,1201.2 L1415.5,1200.6 L1417.5,1200.1 L1419.5,1199.7 L1421.5,1199.2 L1423.2,1198.8 M1428.7,1197.5 L1429.5,1197.3 L1431.5,1196.9 L1433.5,1196.4 L1435.5,1196.0 L1437.5,1195.7 L1439.5,1195.4 L1441.5,1195.0 L1442.4,1194.9 M1447.7,1194.0 L1449.5,1193.7 L1451.5,1193.3 L1453.5,1193.0 L1455.5,1192.7 L1457.5,1192.3 L1459.5,1192.0 L1461.5,1191.8 M1466.7,1191.3 L1467.5,1191.2 L1469.5,1191.1 L1471.5,1190.9 L1473.5,1190.7 L1475.5,1190.6 L1477.5,1190.5 L1479.5,1190.4 L1480.7,1190.4 M1486.0,1190.2 L1487.5,1190.1 L1489.5,1190.0 L1491.5,1189.8 L1493.5,1189.5 L1495.5,1189.2 L1497.5,1189.0 L1499.5,1188.7 L1499.9,1188.6 M1505.1,1187.9 L1505.5,1187.9 L1507.5,1187.6 L1509.5,1187.3 L1511.5,1186.8 L1513.5,1186.3 L1515.5,1185.8 L1517.5,1185.3 L1518.8,1185.0 M1523.9,1183.7 L1525.5,1183.3 L1527.5,1182.8 L1529.5,1182.3 L1531.5,1181.8 L1533.5,1181.3 L1535.5,1180.8 L1537.5,1180.3 L1537.5,1180.3 M1542.7,1179.1 L1543.5,1178.9 L1545.5,1178.4 L1547.5,1177.9 L1549.5,1177.5 L1551.5,1177.1 L1553.5,1176.7 L1555.5,1176.2 L1556.3,1176.1 M1561.5,1175.0 L1563.5,1174.6 L1565.5,1174.2 L1567.5,1173.7 L1569.5,1173.3 L1571.5,1172.9 L1573.5,1172.5 L1575.2,1172.1 M1579.9,1171.2 L1581.5,1170.8 L1583.5,1170.4 L1585.5,1170.0 L1587.5,1169.5 L1589.5,1168.9 L1591.5,1168.3 L1593.4,1167.7 M1598.9,1166.0 L1599.5,1165.8 L1601.5,1165.2 L1603.5,1164.6 L1605.5,1164.0 L1607.5,1163.4 L1609.5,1162.8 L1611.5,1162.2 L1612.3,1161.9 M1617.3,1160.4 L1617.5,1160.3 L1619.5,1159.7 L1621.5,1159.1 L1623.5,1158.5 L1625.5,1157.9 L1627.5,1157.3 L1629.5,1156.7 L1630.7,1156.3 M1635.7,1154.9 L1637.5,1154.4 L1639.5,1153.8 L1641.5,1153.2 L1643.5,1152.6 L1645.5,1152.0 L1647.5,1151.4 L1649.1,1151.0 M1654.1,1149.5 L1655.5,1149.1 L1657.5,1148.5 L1659.5,1147.9 L1661.5,1147.3 L1663.5,1146.6 L1665.5,1145.8 L1667.4,1145.2 M1672.6,1143.2 L1673.5,1142.9 L1675.5,1142.2 L1677.5,1141.5 L1679.5,1140.7 L1681.5,1140.0 L1683.5,1139.2 L1685.5,1138.5 L1685.7,1138.4 M1690.8,1136.6 L1691.5,1136.3 L1693.5,1135.6 L1695.5,1134.9 L1697.5,1134.1 L1699.5,1133.4 L1701.5,1132.7 L1703.5,1131.9 L1703.9,1131.8 M1709.0,1129.9 L1709.5,1129.7 L1711.5,1129.0 L1713.5,1128.2 L1715.5,1127.5 L1717.5,1126.8 L1719.5,1126.2 L1721.5,1125.5 L1722.2,1125.2 M1726.9,1123.6 L1727.5,1123.4 L1729.5,1122.7 L1731.5,1122.0 L1733.5,1121.3 L1735.5,1120.7 L1737.5,1120.0 L1739.5,1119.3 L1740.1,1119.1 M1745.1,1117.4 L1745.5,1117.2 L1747.5,1116.5 L1749.5,1115.9 L1751.5,1115.2 L1753.5,1114.5 L1755.5,1113.8 L1757.5,1113.2 L1758.4,1112.9 M1763.3,1111.2 L1763.5,1111.1 L1765.5,1110.5 L1767.5,1109.8 L1769.5,1109.1 L1771.5,1108.4 L1773.5,1107.8 L1775.5,1107.1 L1776.6,1106.7 M1781.6,1105.1 L1783.5,1104.4 L1785.5,1103.7 L1787.5,1103.1 L1789.5,1102.4 L1791.5,1101.6 L1793.5,1100.9 L1794.8,1100.4" fill="none" stroke="#1212ee" stroke-width="4.2" stroke-linejoin="round"/>
<rect x="281.80" y="1404.50" width="10.70" height="8.10" fill="#969696" stroke="#111" stroke-width="2.0"/>
<rect x="296.40" y="1404.50" width="10.60" height="30.30" fill="#969696" stroke="#111" stroke-width="2.0"/>
<rect x="758.50" y="1308.10" width="11.60" height="37.40" fill="#969696" stroke="#111" stroke-width="2.0"/>
<rect x="1448.00" y="1180.50" width="10.20" height="30.20" fill="#969696" stroke="#111" stroke-width="2.0"/>
<rect x="1462.70" y="1180.50" width="10.80" height="41.80" fill="#969696" stroke="#111" stroke-width="2.0"/>
<rect x="1478.00" y="1180.50" width="11.40" height="61.30" fill="#969696" stroke="#111" stroke-width="2.0"/>
<rect x="311.55" y="1404.65" width="12.20" height="189.60" fill="#fff" stroke="#000" stroke-width="2.3"/>
<rect x="328.75" y="1404.65" width="12.70" height="368.20" fill="#fff" stroke="#000" stroke-width="2.3"/>
<rect x="776.45" y="1307.95" width="12.20" height="191.20" fill="#fff" stroke="#000" stroke-width="2.3"/>
<rect x="794.55" y="1307.95" width="12.20" height="369.50" fill="#fff" stroke="#000" stroke-width="2.3"/>
<rect x="1494.55" y="1180.45" width="13.80" height="243.10" fill="#fff" stroke="#000" stroke-width="2.3"/>
<rect x="1763.35" y="1071.75" width="12.30" height="245.70" fill="#fff" stroke="#000" stroke-width="2.3"/>
<line x1="103.60" y1="1037.80" x2="103.60" y2="1811.00" stroke="#000" stroke-width="3"/>
<line x1="102.10" y1="1785.90" x2="1849.30" y2="1785.90" stroke="#000" stroke-width="3"/>
<line x1="1847.90" y1="1037.60" x2="1847.90" y2="1787.40" stroke="#000" stroke-width="3"/>
<line x1="97.80" y1="1069.60" x2="103.00" y2="1069.60" stroke="#000" stroke-width="1.6"/>
<line x1="97.80" y1="1192.00" x2="103.00" y2="1192.00" stroke="#000" stroke-width="1.6"/>
<line x1="97.80" y1="1314.40" x2="103.00" y2="1314.40" stroke="#000" stroke-width="1.6"/>
<line x1="97.80" y1="1436.80" x2="103.00" y2="1436.80" stroke="#000" stroke-width="1.6"/>
<line x1="97.80" y1="1559.20" x2="103.00" y2="1559.20" stroke="#000" stroke-width="1.6"/>
<line x1="97.80" y1="1681.60" x2="103.00" y2="1681.60" stroke="#000" stroke-width="1.6"/>
<line x1="97.80" y1="1804.00" x2="103.00" y2="1804.00" stroke="#000" stroke-width="1.6"/>
<line x1="135.30" y1="1785.50" x2="135.30" y2="1793.30" stroke="#000" stroke-width="1.6"/>
<line x1="525.30" y1="1785.50" x2="525.30" y2="1793.30" stroke="#000" stroke-width="1.6"/>
<line x1="915.30" y1="1785.50" x2="915.30" y2="1793.30" stroke="#000" stroke-width="1.6"/>
<line x1="1305.30" y1="1785.50" x2="1305.30" y2="1793.30" stroke="#000" stroke-width="1.6"/>
<line x1="1695.30" y1="1785.50" x2="1695.30" y2="1793.30" stroke="#000" stroke-width="1.6"/>
<text transform="translate(67.51,1086.60) scale(1.0000,1.0350)" font-size="40.4">6</text>
<text transform="translate(68.52,1208.90) scale(1.0000,1.0350)" font-size="40.4">4</text>
<text transform="translate(69.36,1330.10) scale(1.0000,1.0350)" font-size="40.4">2</text>
<text transform="translate(67.11,1453.00) scale(1.0000,1.0350)" font-size="40.4">0</text>
<text transform="translate(62.21,1571.40) scale(1.0000,1.0350)" font-size="40.4">-2</text>
<text transform="translate(59.06,1691.30) scale(1.0000,1.0350)" font-size="40.4">-4</text>
<text transform="translate(60.35,1816.20) scale(1.0000,1.0350)" font-size="40.4">-6</text>
<text transform="translate(117.92,1835.00) scale(1.0000,1.0350)" font-size="40.4">0</text>
<text transform="translate(484.38,1835.00) scale(1.0000,1.0350)" font-size="40.4">50</text>
<text transform="translate(868.92,1835.00) scale(1.0000,1.0350)" font-size="40.4">100</text>
<text transform="translate(1263.32,1835.00) scale(1.0000,1.0350)" font-size="40.4">150</text>
<text transform="translate(1653.37,1835.00) scale(1.0000,1.0350)" font-size="40.4">200</text>
<text x="748.29" y="1871.60" font-size="40.4">Distance to the stream (m)</text>
<text transform="translate(48.80,1546.61) rotate(-90)" font-size="40.4">Depth (m)</text>
<text x="1407.88" y="1758.90" font-size="46.7" font-weight="bold">Kerroland transect</text>
<text x="135.62" y="1234.50" font-size="37">Stream</text>
<text transform="translate(201.98,1384.60) scale(0.9306,1.0350)" font-size="40.5" font-weight="bold" fill="#939393">PAEK1</text>
<text transform="translate(637.66,1284.50) scale(0.9746,1.0350)" font-size="40.5" font-weight="bold" fill="#939393">PAEK2</text>
<text transform="translate(1335.26,1143.80) scale(0.9742,1.0350)" font-size="40.5" font-weight="bold" fill="#939393">PAEK3</text>
<text transform="translate(211.57,1633.10) scale(0.9443,1.0350)" font-size="41.6" font-weight="bold">PK1</text>
<text transform="translate(342.30,1762.80) scale(1.0054,1.0350)" font-size="41.6" font-weight="bold">PK5</text>
<text transform="translate(693.27,1539.90) scale(1.0160,1.0350)" font-size="41.6" font-weight="bold">PK2</text>
<text transform="translate(758.78,1724.10) scale(1.0138,1.0350)" font-size="41.6" font-weight="bold">PK6</text>
<text transform="translate(1459.32,1481.80) scale(1.0000,1.0350)" font-size="41.6" font-weight="bold">PK3</text>
<text transform="translate(1743.06,1356.40) scale(0.9844,1.0350)" font-size="41.6" font-weight="bold">PK4</text>
<text x="1559.19" y="1212.10" font-size="40.4" fill="#1212ee">Period B</text>
<text x="1533.73" y="1252.40" font-size="39.7" fill="#1212ee">Wet season</text>
<text x="1547.49" y="1340.80" font-size="40.4" fill="#1d9de8">Period C</text>
<text x="1524.09" y="1380.30" font-size="40.4" fill="#1d9de8">Dry season</text>
</svg></body></html>
